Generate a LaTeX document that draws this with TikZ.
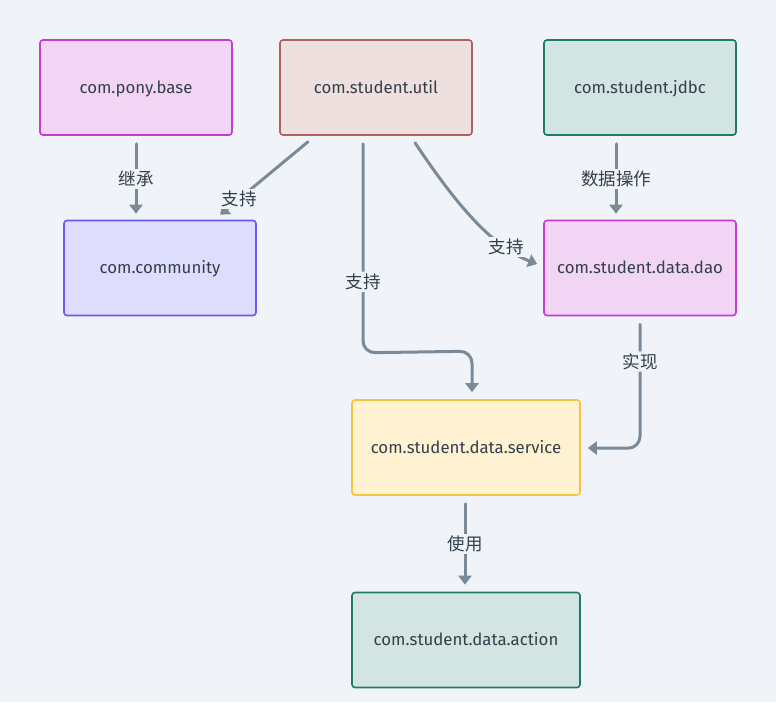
\documentclass[tikz,border=0pt]{standalone}
\usepackage{fontspec}
\setmainfont{Fira Sans}
\newfontfamily\cjk{Noto Sans CJK SC}
\usetikzlibrary{arrows.meta,calc}
\definecolor{bgc}{HTML}{F0F4F8}
\definecolor{edgec}{HTML}{7B8A99}
\definecolor{txtc}{HTML}{333F4B}
\definecolor{magF}{HTML}{F2D5F5}\definecolor{magD}{HTML}{C43BD6}
\definecolor{redF}{HTML}{EFE0E0}\definecolor{redD}{HTML}{B06262}
\definecolor{grnF}{HTML}{D3E5E2}\definecolor{grnD}{HTML}{1F7A66}
\definecolor{bluF}{HTML}{DEDDFE}\definecolor{bluD}{HTML}{6A5AF0}
\definecolor{yelF}{HTML}{FFF2D3}\definecolor{yelD}{HTML}{F5C542}
\tikzset{
  box/.style={draw, line width=1.6pt, rounded corners=3pt, minimum width=192pt,
    minimum height=95pt, text=txtc, font=\fontsize{16.8}{17}\selectfont, inner sep=0pt,
    text height=12.5pt, text depth=1.5pt},
  widebox/.style={box, minimum width=228pt},
  arr/.style={draw=edgec, line width=3pt, line cap=round,
    -{Triangle[length=9pt,width=13pt]}},
  lbl/.style={fill=bgc, text=txtc, font=\cjk\fontsize{17.5}{18}\selectfont, inner sep=2pt}
}
\begin{document}
\begin{tikzpicture}[x=1pt,y=-1pt]
\fill[bgc] (0,0) rectangle (776,702);
\useasboundingbox (0,0) rectangle (776,702);

\node[box, fill=magF, draw=magD] (base) at (136,87.5) {com.pony.base};
\node[box, fill=redF, draw=redD] (util) at (376,87.5) {com.student.util};
\node[box, fill=grnF, draw=grnD] (jdbc) at (640,87.5) {com.student.jdbc};
\node[box, fill=bluF, draw=bluD] (comm) at (160,268) {com.community};
\node[box, fill=magF, draw=magD] (dao) at (640,268) {com.student.data.dao};
\node[widebox, fill=yelF, draw=yelD] (serv) at (466,447.5) {com.student.data.service};
\node[widebox, fill=grnF, draw=grnD] (act) at (466,640) {com.student.data.action};

% base -> community
\draw[arr] ($(base.south)+(0,8)$) -- node[lbl]{继承} ($(comm.north)+(-24,-6)$);
% jdbc -> dao
\draw[arr] ($(jdbc.south)+(-24,8)$) -- node[lbl]{数据操作} ($(dao.north)+(-24,-6)$);
% util -> community
\draw[arr] ($(util.south)+(-68,6)$) -- node[lbl, pos=0.78]{支持} ($(comm.north)+(60,-5)$);
% util -> service
\draw[arr, rounded corners=12pt] ($(util.south)+(-13,8)$) -- node[lbl, pos=0.66]{支持} ($(util.south)+(-13,217)$) -- ($(serv.north)+(6,-48)$) -- ($(serv.north)+(6,-7)$);
% util -> dao
\draw[arr] ($(util.south)+(39,7)$) .. controls (450,195) and (488,245) .. node[lbl, pos=0.78]{支持} ($(dao.west)+(-6,-4)$);
% dao -> service
\draw[arr, rounded corners=12pt] ($(dao.south)+(0,8)$) -- node[lbl, pos=0.3]{实现} ($(dao.south)+(0,132)$) -- ($(serv.east)+(7,0.5)$);
% service -> action
\draw[arr] ($(serv.south)+(-1,8)$) -- node[lbl]{使用} ($(act.north)+(-1,-7)$);
\end{tikzpicture}
\end{document}
